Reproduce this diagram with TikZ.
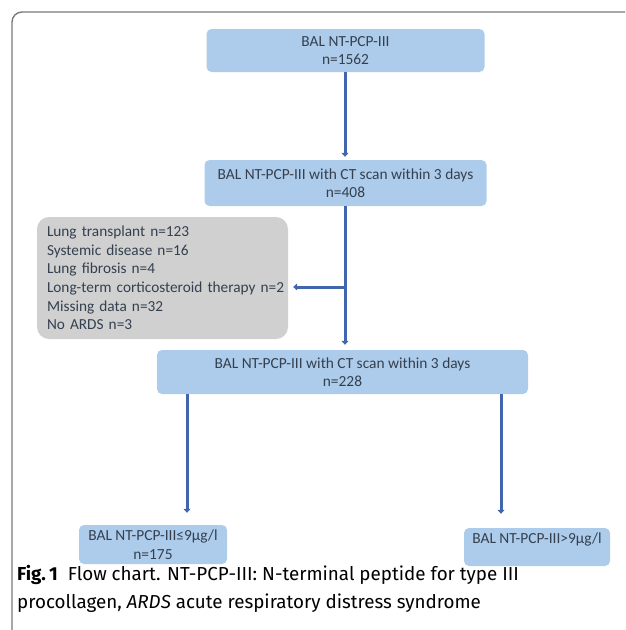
\documentclass[tikz,border=0pt]{standalone}
\usepackage{fontspec}
\setmainfont{Carlito}
\newfontfamily\capfont{Fira Sans}
\usetikzlibrary{calc,positioning,arrows.meta}
\definecolor{flowBlue}{HTML}{ADCBEA}
\definecolor{flowGray}{HTML}{D0D0D0}
\definecolor{flowArrow}{HTML}{4266AE}
\definecolor{flowText}{HTML}{34404F}
\definecolor{flowFrame}{HTML}{7A7A7A}

\begin{document}
\begin{tikzpicture}[x=1pt,y=-1pt,
  b/.style={fill=flowBlue,rounded corners=5pt,inner sep=0pt,align=center,
            text=flowText,font=\fontsize{15.4}{18.5}\selectfont},
  g/.style={fill=flowGray,rounded corners=12pt,inner sep=0pt,align=left,
            text=flowText,font=\fontsize{15.3}{18.6}\selectfont},
  a/.style={-{Triangle[length=4pt,width=7pt]},flowArrow,line width=3pt}]
  \useasboundingbox (0,0) rectangle (625,630);
  \clip (0,0) rectangle (625,630);
  \draw[flowFrame,line width=1.4pt,rounded corners=10pt] (12,12) rectangle (680,660);
  \node[b,minimum width=278,minimum height=43] (top) at (345.5,50.5) {BAL NT-PCP-III\\n=1562};
  \node[b,minimum width=282,minimum height=46] (ct) at (345.5,183) {BAL NT-PCP-III with CT scan within 3 days\\n=408};
  \node[g,minimum width=251,minimum height=122,text width=231] (excl) at (162.5,278)
    {Lung transplant n=123\\Systemic disease n=16\\Lung fibrosis n=4\\\mbox{Long-term corticosteroid therapy n=2}\\Missing data n=32\\No ARDS n=3};
  \node[b,minimum width=371,minimum height=44] (cohort) at (342.5,372) {BAL NT-PCP-III with CT scan within 3 days\\n=228};
  \node[b,minimum width=148,minimum height=39] (low) at (153,544.5) {BAL NT-PCP-III≤9µg/l\\n=175};
  \node[b,minimum width=146,minimum height=38] (high) at (537,547) {BAL NT-PCP-III>9µg/l\\\mbox{}};
  \coordinate (br) at (345,287);
  \coordinate (lx) at (187,0);
  \coordinate (rx) at (501,0);
  \draw[a,shorten >=3pt] (top.south -| br) -- (ct.north -| br);
  \draw[a,shorten >=5pt] (ct.south -| br) -- (cohort.north -| br);
  \draw[a,shorten >=5pt] (br) -- (br -| excl.east);
  \draw[a,shorten >=12pt] (cohort.south -| lx) -- (low.north -| lx);
  \draw[a,shorten >=14pt] (cohort.south -| rx) -- (high.north -| rx);
  \node[anchor=north west,align=left,inner sep=0pt,font=\capfont\fontsize{18.8}{28}\selectfont] (caption) at (17,565)
    {\textbf{Fig.\,1}\ \ Flow chart. NT-PCP-III: N-terminal peptide for type III\\procollagen, \textit{ARDS} acute respiratory distress syndrome};
\end{tikzpicture}
\end{document}
